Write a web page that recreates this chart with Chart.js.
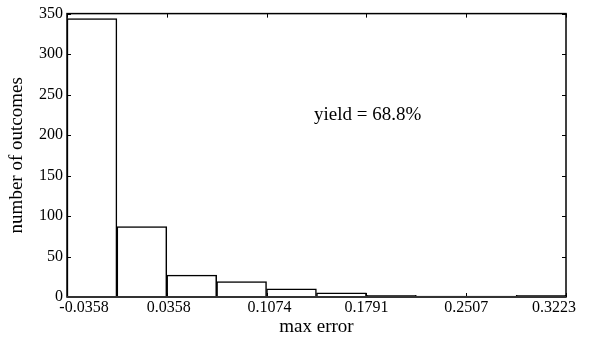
<!DOCTYPE html>
<html>
<head>
<meta charset="utf-8">
<script src="https://cdn.jsdelivr.net/npm/chart.js@4/dist/chart.umd.min.js"></script>
<style>
  html, body { margin: 0; padding: 0; background: #fff; }
  #wrap { width: 590px; height: 345px; }
</style>
</head>
<body>
<div id="wrap"><canvas id="histChart"></canvas></div>
<script>
// histogram bin edges (max error) and the count in each bin
const binEdges = [-0.0358, 0.0000, 0.0358, 0.0716, 0.1074, 0.1432, 0.1791, 0.2149, 0.2507, 0.2865, 0.3223];
const binCounts = [344, 87, 27, 19, 10, 5, 2, 1, 1, 2];

// labelled ticks
const xTickValues = [-0.0358, 0.0358, 0.1074, 0.1791, 0.2507, 0.3223];
const xTickLabels = ['-0.0358', '0.0358', '0.1074', '0.1791', '0.2507', '0.3223'];
const yTickValues = [0, 50, 100, 150, 200, 250, 300, 350];

const yieldText = 'yield = 68.8%';
const yieldPos = { x: 0.180, y: 225 };

const serif = '"Liberation Serif", "DejaVu Serif", serif';
// end labels are pulled in so they don't hang past the frame
const xLabelNudge = [17, 2, 3, 0, 0, -12];

// one bar per bin, placed at the bin middle
const points = binCounts.map(function (c, i) {
    return { x: (binEdges[i] + binEdges[i + 1]) / 2, y: c };
});

// frame, inward ticks on all four sides, x labels and the yield note
const framePlugin = {
    id: 'frame',
    afterDatasetsDraw(chart) {
        const ctx = chart.ctx;
        const a = chart.chartArea;
        const xs = chart.scales.x;
        const ys = chart.scales.y;
        const len = 4;
        ctx.save();
        ctx.strokeStyle = '#000';
        ctx.lineWidth = 1.5;
        ctx.strokeRect(a.left, a.top, a.right - a.left, a.bottom - a.top);

        ctx.beginPath();
        xTickValues.forEach(function (v) {
            const px = Math.round(xs.getPixelForValue(v)) + 0.5;
            ctx.moveTo(px, a.bottom); ctx.lineTo(px, a.bottom - len);
            ctx.moveTo(px, a.top); ctx.lineTo(px, a.top + len);
        });
        yTickValues.forEach(function (v) {
            const py = Math.round(ys.getPixelForValue(v)) + 0.5;
            ctx.moveTo(a.left, py); ctx.lineTo(a.left + len, py);
            ctx.moveTo(a.right, py); ctx.lineTo(a.right - len, py);
        });
        ctx.lineWidth = 1;
        ctx.stroke();

        // bottom axis line is a bit heavier
        ctx.beginPath();
        ctx.strokeStyle = '#333';
        ctx.lineWidth = 2;
        ctx.moveTo(a.left, a.bottom);
        ctx.lineTo(a.right, a.bottom);
        ctx.stroke();

        ctx.fillStyle = '#000';
        ctx.font = '16px ' + serif;
        ctx.textAlign = 'center';
        ctx.textBaseline = 'top';
        xTickValues.forEach(function (v, i) {
            ctx.fillText(xTickLabels[i], xs.getPixelForValue(v) + xLabelNudge[i], a.bottom + 3);
        });

        ctx.font = '19px ' + serif;
        ctx.textBaseline = 'middle';
        ctx.fillText(yieldText, xs.getPixelForValue(yieldPos.x), ys.getPixelForValue(yieldPos.y));
        ctx.restore();
    }
};

new Chart(document.getElementById('histChart'), {
    type: 'bar',
    data: {
        datasets: [{
            data: points,
            backgroundColor: '#fff',
            borderColor: '#000',
            borderWidth: 1.5,
            barPercentage: 1,
            categoryPercentage: 1
        }]
    },
    options: {
        responsive: true,
        maintainAspectRatio: false,
        animation: false,
        layout: { padding: { top: 7, right: 24, left: 0, bottom: 0 } },
        plugins: {
            legend: { display: false },
            tooltip: { enabled: false }
        },
        scales: {
            x: {
                type: 'linear',
                offset: false,
                min: binEdges[0],
                max: binEdges[binEdges.length - 1],
                afterBuildTicks(scale) {
                    scale.ticks = xTickValues.map(function (v) { return { value: v }; });
                },
                afterFit(scale) { scale.height = 48; },
                grid: { display: false, drawTicks: false },
                border: { display: false },
                ticks: { display: false },
                title: {
                    display: true,
                    text: 'max error',
                    color: '#000',
                    font: { family: serif, size: 19 },
                    padding: { top: 0, bottom: 7 }
                }
            },
            y: {
                min: 0,
                max: 350,
                afterBuildTicks(scale) {
                    scale.ticks = yTickValues.map(function (v) { return { value: v }; });
                },
                afterFit(scale) { scale.width = 67; },
                grid: { display: false, drawTicks: false },
                border: { display: false },
                ticks: {
                    padding: 4,
                    color: '#000',
                    font: { family: serif, size: 16 }
                },
                title: {
                    display: true,
                    text: 'number of outcomes',
                    color: '#000',
                    font: { family: serif, size: 19 },
                    padding: { top: 6, bottom: 0 }
                }
            }
        }
    },
    plugins: [framePlugin]
});
</script>
</body>
</html>
